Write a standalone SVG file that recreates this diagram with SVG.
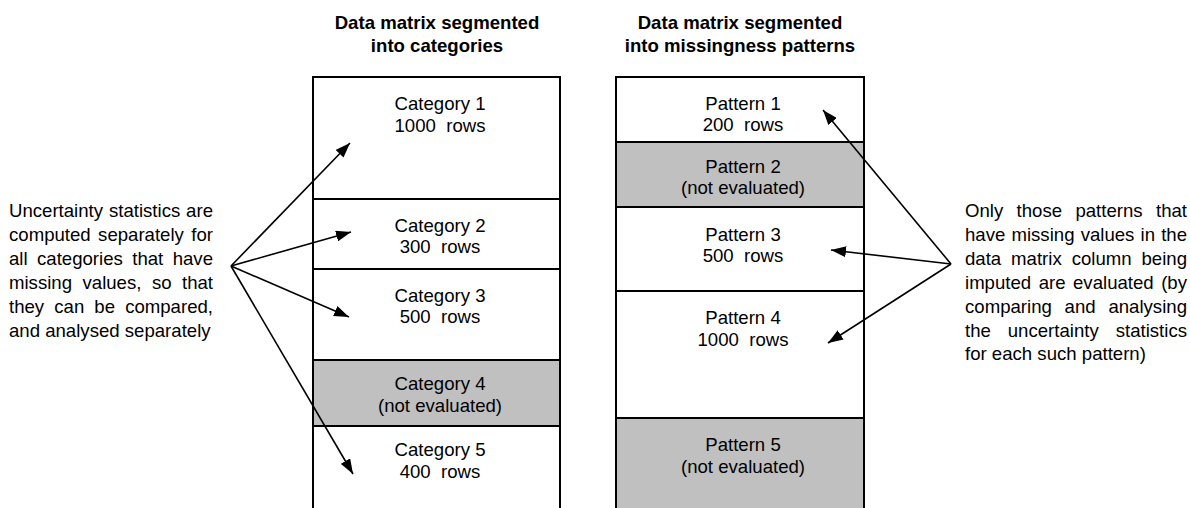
<svg xmlns="http://www.w3.org/2000/svg" width="1190" height="508" viewBox="0 0 1190 508">
<style>
text{font-family:"Liberation Sans",Arial,sans-serif;font-size:18.6px;fill:#000}
.t{font-weight:bold;text-anchor:middle}
.c{text-anchor:middle}
.seg{fill:#fff;stroke:#000;stroke-width:2}
.gray{fill:#c0c0c0}
.con{stroke:#000;stroke-width:1.6;fill:none;marker-end:url(#ah)}
</style>
<defs>
<marker id="ah" markerUnits="userSpaceOnUse" markerWidth="15" markerHeight="11" refX="15" refY="5.5" orient="auto">
<path d="M0,0 L15,5.5 L0,11 z" fill="#000"/>
</marker>
</defs>
<rect width="1190" height="508" fill="#fff"/>
<g id="title-left">
<text class="t" x="437" y="29">Data matrix segmented</text>
<text class="t" x="437" y="52">into categories</text>
</g>
<g id="title-right">
<text class="t" x="740" y="29">Data matrix segmented</text>
<text class="t" x="740" y="52">into missingness patterns</text>
</g>
<g id="cat1"><rect class="seg" x="313" y="77" width="247" height="122"/>
<text class="c" x="440" y="110">Category 1</text><text class="c" x="440" y="132" xml:space="preserve">1000  rows</text></g>
<g id="cat2"><rect class="seg" x="313" y="199" width="247" height="70"/>
<text class="c" x="440" y="232">Category 2</text><text class="c" x="440" y="253" xml:space="preserve">300  rows</text></g>
<g id="cat3"><rect class="seg" x="313" y="269" width="247" height="91"/>
<text class="c" x="440" y="302">Category 3</text><text class="c" x="440" y="323" xml:space="preserve">500  rows</text></g>
<g id="cat4"><rect class="seg gray" x="313" y="360" width="247" height="66"/>
<text class="c" x="440" y="390">Category 4</text><text class="c" x="440" y="411.5">(not evaluated)</text></g>
<g id="cat5"><rect class="seg" x="313" y="426" width="247" height="100"/>
<text class="c" x="440" y="456">Category 5</text><text class="c" x="440" y="477.5" xml:space="preserve">400  rows</text></g>
<g id="pat1"><rect class="seg" x="616" y="77" width="248" height="65"/>
<text class="c" x="743" y="109.5">Pattern 1</text><text class="c" x="743" y="131" xml:space="preserve">200  rows</text></g>
<g id="pat2"><rect class="seg gray" x="616" y="142" width="248" height="65"/>
<text class="c" x="743" y="172.5">Pattern 2</text><text class="c" x="743" y="194">(not evaluated)</text></g>
<g id="pat3"><rect class="seg" x="616" y="207" width="248" height="84"/>
<text class="c" x="743" y="240.5">Pattern 3</text><text class="c" x="743" y="262" xml:space="preserve">500  rows</text></g>
<g id="pat4"><rect class="seg" x="616" y="291" width="248" height="127"/>
<text class="c" x="743" y="324">Pattern 4</text><text class="c" x="743" y="345.5" xml:space="preserve">1000  rows</text></g>
<g id="pat5"><rect class="seg gray" x="616" y="418" width="248" height="110"/>
<text class="c" x="743" y="451">Pattern 5</text><text class="c" x="743" y="472.5">(not evaluated)</text></g>
<g id="note-left">
<text y="217"><tspan x="9">Uncertainty</tspan><tspan x="108.94">statistics</tspan><tspan x="186.12">are</tspan></text>
<text y="240.9"><tspan x="9">computed</tspan><tspan x="98.08">separately</tspan><tspan x="191.29">for</tspan></text>
<text y="264.8"><tspan x="9">all</tspan><tspan x="37.02">categories</tspan><tspan x="132.24">that</tspan><tspan x="172.68">have</tspan></text>
<text y="288.7"><tspan x="9">missing</tspan><tspan x="82.5">values,</tspan><tspan x="151.88">so</tspan><tspan x="181.98">that</tspan></text>
<text y="312.6"><tspan x="9">they</tspan><tspan x="54.26">can</tspan><tspan x="94.35">be</tspan><tspan x="125.13">compared,</tspan></text>
<text x="9" y="336.5">and analysed separately</text>
</g>
<g id="note-right">
<text y="217"><tspan x="965">Only</tspan><tspan x="1016.59">those</tspan><tspan x="1075.44">patterns</tspan><tspan x="1155.98">that</tspan></text>
<text y="240.9"><tspan x="965">have</tspan><tspan x="1011.46">missing</tspan><tspan x="1080.64">values</tspan><tspan x="1140.53">in</tspan><tspan x="1161.15">the</tspan></text>
<text y="264.8"><tspan x="965">data</tspan><tspan x="1011.11">matrix</tspan><tspan x="1071.65">column</tspan><tspan x="1141.5">being</tspan></text>
<text y="288.7"><tspan x="965">imputed</tspan><tspan x="1038.65">are</tspan><tspan x="1073.02">evaluated</tspan><tspan x="1161.16">(by</tspan></text>
<text y="312.6"><tspan x="965">comparing</tspan><tspan x="1064.62">and</tspan><tspan x="1108.43">analysing</tspan></text>
<text y="336.5"><tspan x="965">the</tspan><tspan x="1007.79">uncertainty</tspan><tspan x="1115.69">statistics</tspan></text>
<text x="965" y="360.4">for each such pattern)</text>
</g>
<g id="connectors">
<line class="con" x1="231" y1="266" x2="350" y2="143"/>
<line class="con" x1="231" y1="266" x2="351" y2="232"/>
<line class="con" x1="231" y1="266" x2="349" y2="317"/>
<line class="con" x1="231" y1="266" x2="353" y2="474"/>
<line class="con" x1="951" y1="264" x2="823" y2="110"/>
<line class="con" x1="951" y1="264" x2="831" y2="250"/>
<line class="con" x1="951" y1="264" x2="828" y2="343"/>
</g>
</svg>
